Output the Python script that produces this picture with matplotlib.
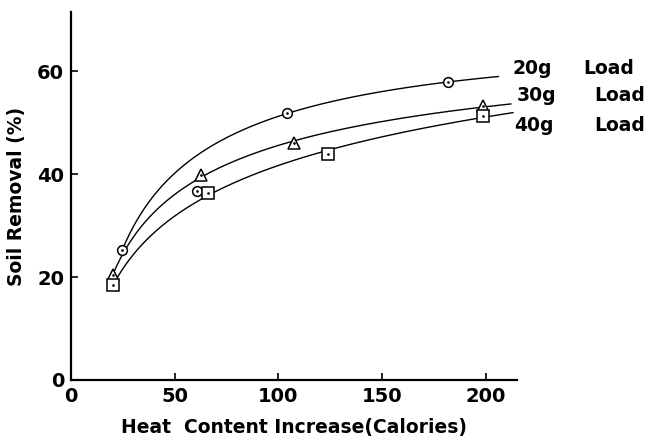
import numpy as np
import matplotlib
matplotlib.use('Agg')
import matplotlib.pyplot as plt

# === DATA ===
x_20g = [24.6, 60.9, 104.3, 181.6]
y_20g = [25.2, 36.7, 51.8, 57.9]
fit_20g = [True, False, True, True]     # the 61-cal point sits off the curve

x_30g = [20.1, 62.8, 107.7, 198.6]
y_30g = [20.4, 39.8, 46.0, 53.2]

x_40g = [20.3, 66.2, 123.7, 198.6]
y_40g = [18.4, 36.3, 44.0, 51.3]

curve_start = [24.6, 20.1, 20.6]
curve_end = [206, 212, 213]

loads = ["20g", "30g", "40g"]
label_y = [60.6, 55.2, 49.4]
label_x = [213, 215, 213.5]
load_x = [247, 252, 252]

x_ticks = [0, 50, 100, 150, 200]
y_ticks = [0, 20, 40, 60]


def fit_curve(xs, ys, x0, x1):
    # smooth curve through the points: quadratic in ln(x)
    c = np.polyfit(np.log(xs), ys, 2)
    xx = np.linspace(x0, x1, 200)
    return xx, np.polyval(c, np.log(xx))


fig = plt.figure(figsize=(6.54, 4.40), dpi=100)
ax = fig.add_axes([0.1086, 0.1364, 0.6820, 0.8363])

series = [
    (x_20g, y_20g, fit_20g, 'o', 7),
    (x_30g, y_30g, [True] * 4, '^', 8),
    (x_40g, y_40g, [True] * 4, 's', 8.5),
]

for i, (xs, ys, mask, mk, ms) in enumerate(series):
    xs = np.array(xs)
    ys = np.array(ys)
    m = np.array(mask)
    xx, yy = fit_curve(xs[m], ys[m], curve_start[i], curve_end[i])
    ax.plot(xx, yy, color='black', lw=1.0, zorder=2)
    ax.plot(xs, ys, linestyle='none', marker=mk, markersize=ms,
            markerfacecolor='white', markeredgecolor='black',
            markeredgewidth=1.1, zorder=3)
    ax.plot(xs, ys, linestyle='none', marker='.', markersize=1.8,
            color='black', zorder=4)

for i, name in enumerate(loads):
    ax.text(label_x[i], label_y[i], name, fontsize=13.5, fontweight='bold',
            va='center', ha='left', clip_on=False)
    ax.text(load_x[i], label_y[i], "Load", fontsize=13.5,
            fontweight='bold', va='center', ha='left', clip_on=False)

ax.set_xlim(0, 215)
ax.set_ylim(0, 71.5)
ax.set_xticks(x_ticks)
ax.set_yticks(y_ticks)
ax.spines['top'].set_visible(False)
ax.spines['right'].set_visible(False)
ax.spines['left'].set_linewidth(1.6)
ax.spines['bottom'].set_linewidth(1.6)
ax.tick_params(direction='in', length=5, width=1.2, labelsize=14, pad=5)
for lab in ax.get_xticklabels() + ax.get_yticklabels():
    lab.set_fontweight('bold')

ax.set_xlabel("Heat  Content Increase(Calories)", fontsize=13.5,
              fontweight='bold', labelpad=9)
ax.set_ylabel("Soil Removal (%)", fontsize=13.5, fontweight='bold',
              labelpad=8)

fig.savefig("out.png", dpi=100)
